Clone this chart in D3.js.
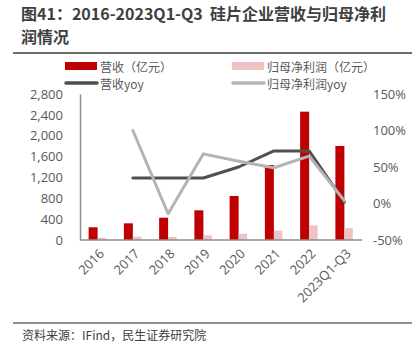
<!DOCTYPE html>
<html>
<head>
<meta charset="utf-8">
<script src="https://cdn.jsdelivr.net/npm/d3@7"></script>
<style>
  body { margin: 0; background: #fff; }
  svg { display: block; font-family: "Noto Sans CJK SC", "Noto Sans", sans-serif; }
</style>
</head>
<body>
<svg id="chart" width="419" height="354"></svg>
<script>
// data
const years = ["2016", "2017", "2018", "2019", "2020", "2021", "2022", "2023Q1-Q3"]
const revenue = [244, 320, 428, 569, 844, 1438, 2461, 1803]       // 营收（亿元）
const profit = [44, 63, 58, 90, 121, 178, 282, 230]                // 归母净利润（亿元）
const revenueYoy = [null, 35, 35, 35, 50, 72, 72, 2]               // 营收yoy (%)
const profitYoy = [null, 100, -14, 68, 58, 49, 65, 4]              // 归母净利润yoy (%)
const leftTicks = [0, 400, 800, 1200, 1600, 2000, 2400, 2800]
const rightTicks = [-50, 0, 50, 100, 150]

const red = "#c00000"
const pink = "#efc3c3"
const darkLine = "#505050"
const grayLine = "#b4b4b4"
const textColor = "#595959"

const svg = d3.select("#chart")

// title, two lines
svg.append("text")
  .attr("x", 21).attr("y", 19.5)
  .attr("font-size", 16).attr("font-weight", "bold").attr("fill", "#404040")
  .text("图41：2016-2023Q1-Q3\u00a0\u00a0硅片企业营收与归母净利")
svg.append("text")
  .attr("x", 21).attr("y", 43)
  .attr("font-size", 16).attr("font-weight", "bold").attr("fill", "#404040")
  .text("润情况")
svg.append("line")
  .attr("x1", 13).attr("x2", 412).attr("y1", 53).attr("y2", 53)
  .attr("stroke", "#6e6e6e").attr("stroke-width", 2)

// scales
const x = d3.scaleBand().domain(years).range([80, 362])
const sub = d3.scaleBand().domain(["rev", "profit"])
  .range([x.bandwidth() / 2 - 9, x.bandwidth() / 2 + 9])
const yL = d3.scaleLinear().domain([0, 2800]).range([240, 94])
const yR = d3.scaleLinear().domain([-50, 150]).range([240, 94])

// left axis
svg.append("g")
  .attr("transform", "translate(80,0)")
  .call(d3.axisLeft(yL).tickValues(leftTicks).tickSize(0).tickPadding(17)
    .tickFormat(d3.format(",")))
  .call(g => g.select(".domain").attr("stroke", "#8c8c8c").attr("stroke-width", 1.5))
  .call(g => g.selectAll("text").attr("fill", textColor).attr("font-size", 13)
    .attr("font-family", "'Open Sans', 'Noto Sans', sans-serif"))

// right axis
svg.append("g")
  .attr("transform", "translate(362,0)")
  .call(d3.axisRight(yR).tickValues(rightTicks).tickSize(0).tickPadding(11)
    .tickFormat(d => d + "%"))
  .call(g => g.select(".domain").remove())
  .call(g => g.selectAll("text").attr("fill", textColor).attr("font-size", 13)
    .attr("font-family", "'Open Sans', 'Noto Sans', sans-serif"))

// bars
const groups = svg.append("g").selectAll("g")
  .data(years.map((y, i) => ({ year: y, rev: revenue[i], profit: profit[i] })))
  .join("g")
  .attr("transform", d => `translate(${x(d.year)},0)`)

groups.append("rect")
  .attr("x", sub("rev")).attr("width", sub.bandwidth())
  .attr("y", d => yL(d.rev)).attr("height", d => yL(0) - yL(d.rev))
  .attr("fill", red)
groups.append("rect")
  .attr("x", sub("profit")).attr("width", sub.bandwidth() - 0.5)
  .attr("y", d => yL(d.profit)).attr("height", d => yL(0) - yL(d.profit))
  .attr("fill", pink)

// baseline
svg.append("line")
  .attr("x1", 80).attr("x2", 362).attr("y1", yL(0)).attr("y2", yL(0))
  .attr("stroke", "#8c8c8c").attr("stroke-width", 1.5)

// yoy lines
const line = d3.line()
  .defined(d => d.v != null)
  .x(d => x(d.year) + x.bandwidth() / 2)
  .y(d => yR(d.v))

svg.append("path")
  .datum(years.map((y, i) => ({ year: y, v: revenueYoy[i] })))
  .attr("d", line)
  .attr("fill", "none").attr("stroke", darkLine).attr("stroke-width", 3)
  .attr("stroke-linejoin", "round").attr("stroke-linecap", "round")
svg.append("path")
  .datum(years.map((y, i) => ({ year: y, v: profitYoy[i] })))
  .attr("d", line)
  .attr("fill", "none").attr("stroke", grayLine).attr("stroke-width", 3)
  .attr("stroke-linejoin", "round").attr("stroke-linecap", "round")

// x labels
svg.append("g").selectAll("text")
  .data(years)
  .join("text")
  .attr("transform", d => `translate(${x(d) + x.bandwidth() / 2 + 5},${252}) rotate(-45)`)
  .attr("text-anchor", "end")
  .attr("dominant-baseline", "middle")
  .attr("font-size", 13)
  .attr("font-family", "'Open Sans', 'Noto Sans', sans-serif")
  .attr("fill", textColor)
  .text(d => d)

// legend
const legend = [
  { label: "营收（亿元）", type: "rect", color: red, x: 65, y: 66 },
  { label: "归母净利润（亿元）", type: "rect", color: pink, x: 232, y: 66 },
  { label: "营收yoy", type: "line", color: darkLine, x: 65, y: 83 },
  { label: "归母净利润yoy", type: "line", color: grayLine, x: 232, y: 83 }
]
const lg = svg.append("g").selectAll("g").data(legend).join("g")
  .attr("transform", d => `translate(${d.x},${d.y})`)
lg.filter(d => d.type === "rect").append("rect")
  .attr("x", 0).attr("y", -4).attr("width", 32).attr("height", 8)
  .attr("fill", d => d.color)
lg.filter(d => d.type === "line").append("line")
  .attr("x1", 1).attr("x2", 32).attr("y1", 0).attr("y2", 0)
  .attr("stroke", d => d.color).attr("stroke-width", 3.5).attr("stroke-linecap", "round")
lg.append("text")
  .attr("x", 35).attr("y", 0).attr("dominant-baseline", "central")
  .attr("font-size", 12).attr("fill", textColor)
  .text(d => d.label)

// footer
svg.append("line")
  .attr("x1", 13).attr("x2", 412).attr("y1", 323).attr("y2", 323)
  .attr("stroke", "#6e6e6e").attr("stroke-width", 1.5)
svg.append("text")
  .attr("x", 22).attr("y", 340)
  .attr("font-size", 12).attr("fill", "#404040")
  .text("资料来源：IFind，民生证券研究院")
</script>
</body>
</html>
